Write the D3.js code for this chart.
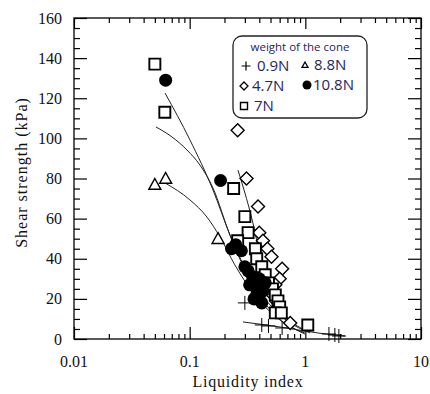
<!DOCTYPE html>
<html>
<head>
<meta charset="utf-8">
<script src="https://cdn.jsdelivr.net/npm/d3@7"></script>
<style>
  body { margin: 0; background: #fff; }
</style>
</head>
<body>
<svg id="chart" width="430" height="394"></svg>
<script>
// tick labels
const xTicks = [0.01, 0.1, 1, 10];
const yTicks = [0, 20, 40, 60, 80, 100, 120, 140, 160];

// measured points: [liquidity index, shear strength kPa]
const cone09 = [[0.30, 18], [0.42, 7], [0.48, 6.5], [0.63, 5.5], [1.6, 2.5], [1.8, 2], [1.95, 1.5]];
const cone47 = [[0.26, 104], [0.31, 80], [0.39, 66], [0.40, 53], [0.43, 49], [0.47, 45], [0.51, 41],
  [0.63, 35], [0.60, 30], [0.55, 27], [0.50, 23], [0.56, 19], [0.74, 8]];
const cone7 = [[0.05, 137], [0.061, 113], [0.24, 75], [0.30, 61], [0.32, 53], [0.26, 49], [0.37, 45],
  [0.38, 40], [0.42, 36], [0.45, 32], [0.48, 28], [0.52, 25], [0.55, 22], [0.58, 19], [0.60, 16],
  [0.55, 13], [0.62, 13], [1.05, 7]];
const cone88 = [[0.05, 77], [0.062, 80], [0.176, 50]];
const cone108 = [[0.062, 129], [0.185, 79], [0.23, 45], [0.25, 47], [0.28, 44], [0.30, 36], [0.32, 34],
  [0.35, 31], [0.33, 27], [0.37, 26], [0.38, 22], [0.40, 20], [0.42, 18], [0.36, 20], [0.43, 24],
  [0.45, 28], [0.40, 30]];

// fitted curves
const fitA = [[0.0612, 122.6], [0.1006, 99.2], [0.159, 74.3], [0.223, 51.8], [0.332, 29.4], [0.546, 12], [0.99, 3]];
const fitB = [[0.0511, 105.7], [0.0703, 100.7], [0.0948, 94.2], [0.1227, 86.7], [0.159, 75.3], [0.223, 51.8],
  [0.345, 29.4], [0.603, 12], [1.1, 3]];
const fitC = [[0.0612, 77.8], [0.1006, 69.3], [0.141, 60.8], [0.183, 50.8], [0.246, 36.9], [0.365, 21.9],
  [0.603, 9.5], [0.99, 2.5]];
const fitD = [[0.2615, 84.2], [0.367, 53.3], [0.448, 28.4], [0.665, 12], [1.1, 3.5]];
const fitE = [[0.289, 8.5], [0.603, 6], [1.285, 3], [2.2, 1.5]];

const legendTitle = 'weight of the cone';

const serif = '"Liberation Serif", "Times New Roman", Times, serif';
const sans = '"Open Sans", "Liberation Sans", sans-serif';

const svg = d3.select('#chart');
const margin = { top: 18, right: 9, bottom: 55, left: 74 };
const W = 430, H = 394;

const x = d3.scaleLog().domain([0.01, 10]).range([margin.left, W - margin.right]);
const y = d3.scaleLinear().domain([0, 160]).range([H - margin.bottom, margin.top]);

const x0 = x.range()[0], x1 = x.range()[1];
const y0 = y.range()[0], y1 = y.range()[1];

const minorX = x.ticks().filter(d => !xTicks.includes(d));
const minorY = y.ticks(32).filter(d => !yTicks.includes(d));

function axisGroup(axis, tx, ty) {
  const g = svg.append('g').attr('transform', `translate(${tx},${ty})`).call(axis);
  g.select('.domain').remove();
  g.selectAll('line').attr('stroke', '#000').attr('stroke-width', 1.2);
  return g;
}

// ticks pointing into the plot on all four sides
axisGroup(d3.axisBottom(x).tickValues(xTicks).tickSize(-12).tickFormat(''), 0, y0);
axisGroup(d3.axisBottom(x).tickValues(minorX).tickSize(-5).tickFormat(''), 0, y0);
axisGroup(d3.axisTop(x).tickValues(xTicks).tickSize(-11).tickFormat(''), 0, y1);
axisGroup(d3.axisTop(x).tickValues(minorX).tickSize(-5).tickFormat(''), 0, y1);
axisGroup(d3.axisLeft(y).tickValues(yTicks).tickSize(-13).tickFormat(''), x0, 0);
axisGroup(d3.axisLeft(y).tickValues(minorY).tickSize(-6).tickFormat(''), x0, 0);
axisGroup(d3.axisRight(y).tickValues(yTicks).tickSize(-13).tickFormat(''), x1, 0);
axisGroup(d3.axisRight(y).tickValues(minorY).tickSize(-6).tickFormat(''), x1, 0);

svg.append('rect')
  .attr('x', x0).attr('y', y1)
  .attr('width', x1 - x0).attr('height', y0 - y1)
  .attr('fill', 'none').attr('stroke', '#000').attr('stroke-width', 1.3);

// tick labels
svg.selectAll('.xl').data(xTicks).enter().append('text')
  .attr('x', d => x(d)).attr('y', 367)
  .attr('text-anchor', 'middle')
  .attr('font-family', serif).attr('font-size', 16)
  .attr('fill', '#111')
  .text(d => d);

svg.selectAll('.yl').data(yTicks).enter().append('text')
  .attr('x', 62).attr('y', d => y(d) + 5.5)
  .attr('text-anchor', 'end')
  .attr('font-family', serif).attr('font-size', 16)
  .attr('fill', '#111')
  .text(d => d);

svg.append('text')
  .attr('x', 248).attr('y', 387)
  .attr('text-anchor', 'middle')
  .attr('font-family', serif).attr('font-size', 16)
  .attr('letter-spacing', 0.8)
  .attr('fill', '#111')
  .text('Liquidity index');

svg.append('text')
  .attr('transform', `translate(27,${(y0 + y1) / 2 - 6}) rotate(-90)`)
  .attr('text-anchor', 'middle')
  .attr('font-family', serif).attr('font-size', 16)
  .attr('letter-spacing', 1)
  .attr('fill', '#111')
  .text('Shear strength (kPa)');

// fitted curves
const line = d3.line().x(d => x(d[0])).y(d => y(d[1])).curve(d3.curveMonotoneX);
[fitA, fitB, fitC, fitD, fitE].forEach(f => {
  svg.append('path').datum(f)
    .attr('d', line)
    .attr('fill', 'none').attr('stroke', '#222').attr('stroke-width', 1);
});

// marker shapes
function plusPath(s) {
  const h = s / 2;
  return `M${-h},0H${h}M0,${-h}V${h}`;
}
function diamondPath(s) {
  const h = s / 2;
  return `M0,${-h}L${h},0L0,${h}L${-h},0Z`;
}
function trianglePath(s) {
  const h = s / 2;
  return `M0,${-h}L${h},${h * 0.8}L${-h},${h * 0.8}Z`;
}
function squarePath(s) {
  const h = s / 2;
  return `M${-h},${-h}H${h}V${h}H${-h}Z`;
}
function circlePath(s) {
  return d3.arc()({ innerRadius: 0, outerRadius: s / 2, startAngle: 0, endAngle: 2 * Math.PI });
}

function markers(data, path, size, fill, sw) {
  svg.append('g').selectAll('path').data(data).enter().append('path')
    .attr('transform', d => `translate(${x(d[0])},${y(d[1])})`)
    .attr('d', path(size))
    .attr('fill', fill)
    .attr('stroke', '#000')
    .attr('stroke-width', sw);
}

markers(cone47, diamondPath, 13, '#fff', 1.4);
markers(cone88, trianglePath, 12, '#fff', 1.4);
markers(cone7, squarePath, 11, '#fff', 1.9);
markers(cone108, circlePath, 13, '#000', 0);
markers(cone09, plusPath, 14, 'none', 1);

// legend
const lg = svg.append('g');
lg.append('rect')
  .attr('x', 233).attr('y', 36).attr('width', 134).attr('height', 82)
  .attr('rx', 9).attr('ry', 9)
  .attr('fill', '#fff').attr('stroke', '#222').attr('stroke-width', 1.3);

const legendColor = '#262660';
lg.append('text')
  .attr('x', 300).attr('y', 51)
  .attr('text-anchor', 'middle')
  .attr('font-family', sans)
  .attr('font-size', 11.5).attr('fill', legendColor)
  .text(legendTitle);

const legendItems = [
  { label: '0.9N', path: plusPath, size: 9, fill: 'none', sw: 1.2, sx: 246, tx: 257, ty: 71 },
  { label: '8.8N', path: trianglePath, size: 6, fill: '#fff', sw: 1.3, sx: 305, tx: 314, ty: 70 },
  { label: '4.7N', path: diamondPath, size: 8, fill: '#fff', sw: 1.3, sx: 244, tx: 252, ty: 91 },
  { label: '10.8N', path: circlePath, size: 9, fill: '#000', sw: 0, sx: 307, tx: 313, ty: 90 },
  { label: '7N', path: squarePath, size: 7, fill: '#fff', sw: 1.4, sx: 244, tx: 254, ty: 111 }
];

legendItems.forEach(it => {
  lg.append('path')
    .attr('transform', `translate(${it.sx},${it.ty - 5})`)
    .attr('d', it.path(it.size))
    .attr('fill', it.fill).attr('stroke', '#000').attr('stroke-width', it.sw);
  lg.append('text')
    .attr('x', it.tx).attr('y', it.ty)
    .attr('font-family', sans)
    .attr('font-size', 15).attr('fill', legendColor)
    .text(it.label);
});
</script>
</body>
</html>
